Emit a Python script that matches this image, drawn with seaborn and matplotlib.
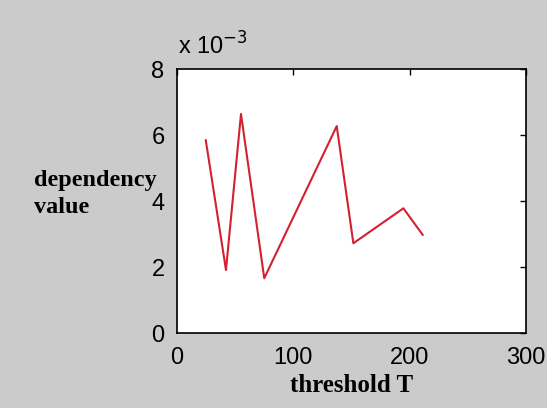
import matplotlib
matplotlib.use("Agg")
import matplotlib.pyplot as plt
import seaborn as sns
import pandas as pd
from matplotlib.ticker import FuncFormatter

threshold = [24.7, 42.1, 55.0, 75.0, 137.3, 151.6, 194.6, 211.3]
dependency = [0.00585, 0.00191, 0.00664, 0.00166, 0.00627, 0.00272, 0.00378, 0.00297]
x_ticks = [0, 100, 200, 300]
y_ticks = [0, 0.002, 0.004, 0.006, 0.008]

sns.set_style("white")
plt.rcParams['font.family'] = ['Liberation Sans', 'DejaVu Sans']
plt.rcParams['text.color'] = 'black'
plt.rcParams['axes.labelcolor'] = 'black'

bg = "#cbcbcb"
fig = plt.figure(figsize=(5.47, 4.08), dpi=100, facecolor=bg)
ax = fig.add_axes([0.3236, 0.1838, 0.638, 0.647])
ax.set_facecolor("white")

df = pd.DataFrame({"threshold": threshold, "dependency": dependency})
sns.lineplot(data=df, x="threshold", y="dependency", ax=ax, color="#d42030",
             linewidth=1.5, sort=False)

ax.set_xlim(0, 300)
ax.set_ylim(0, 0.008)
ax.set_xticks(x_ticks)
ax.set_yticks(y_ticks)
ax.yaxis.set_major_formatter(FuncFormatter(lambda v, p: f"{v*1e3:g}"))
ax.tick_params(direction="in", length=4, width=1, labelsize=17, colors="black",
               top=True, right=True, pad=9)
ax.tick_params(axis="x", pad=10)
for s in ax.spines.values():
    s.set_visible(True)
    s.set_color("black")
    s.set_linewidth(1.2)

ax.set_xlabel("threshold T", family=["Liberation Serif"], fontweight="bold",
              fontsize=18, labelpad=4, color="black")
ax.set_ylabel("")
fig.text(0.063, 0.543, "dependency", family=["Liberation Serif"],
         fontweight="bold", fontsize=17.5, ha="left", va="baseline", color="black")
fig.text(0.063, 0.478, "value", family=["Liberation Serif"],
         fontweight="bold", fontsize=17.5, ha="left", va="baseline", color="black")
fig.text(0.325, 0.865, "x 10$^{-3}$", fontsize=17, ha="left", va="baseline",
         color="black")

fig.savefig("out.png", dpi=100, facecolor=bg)
